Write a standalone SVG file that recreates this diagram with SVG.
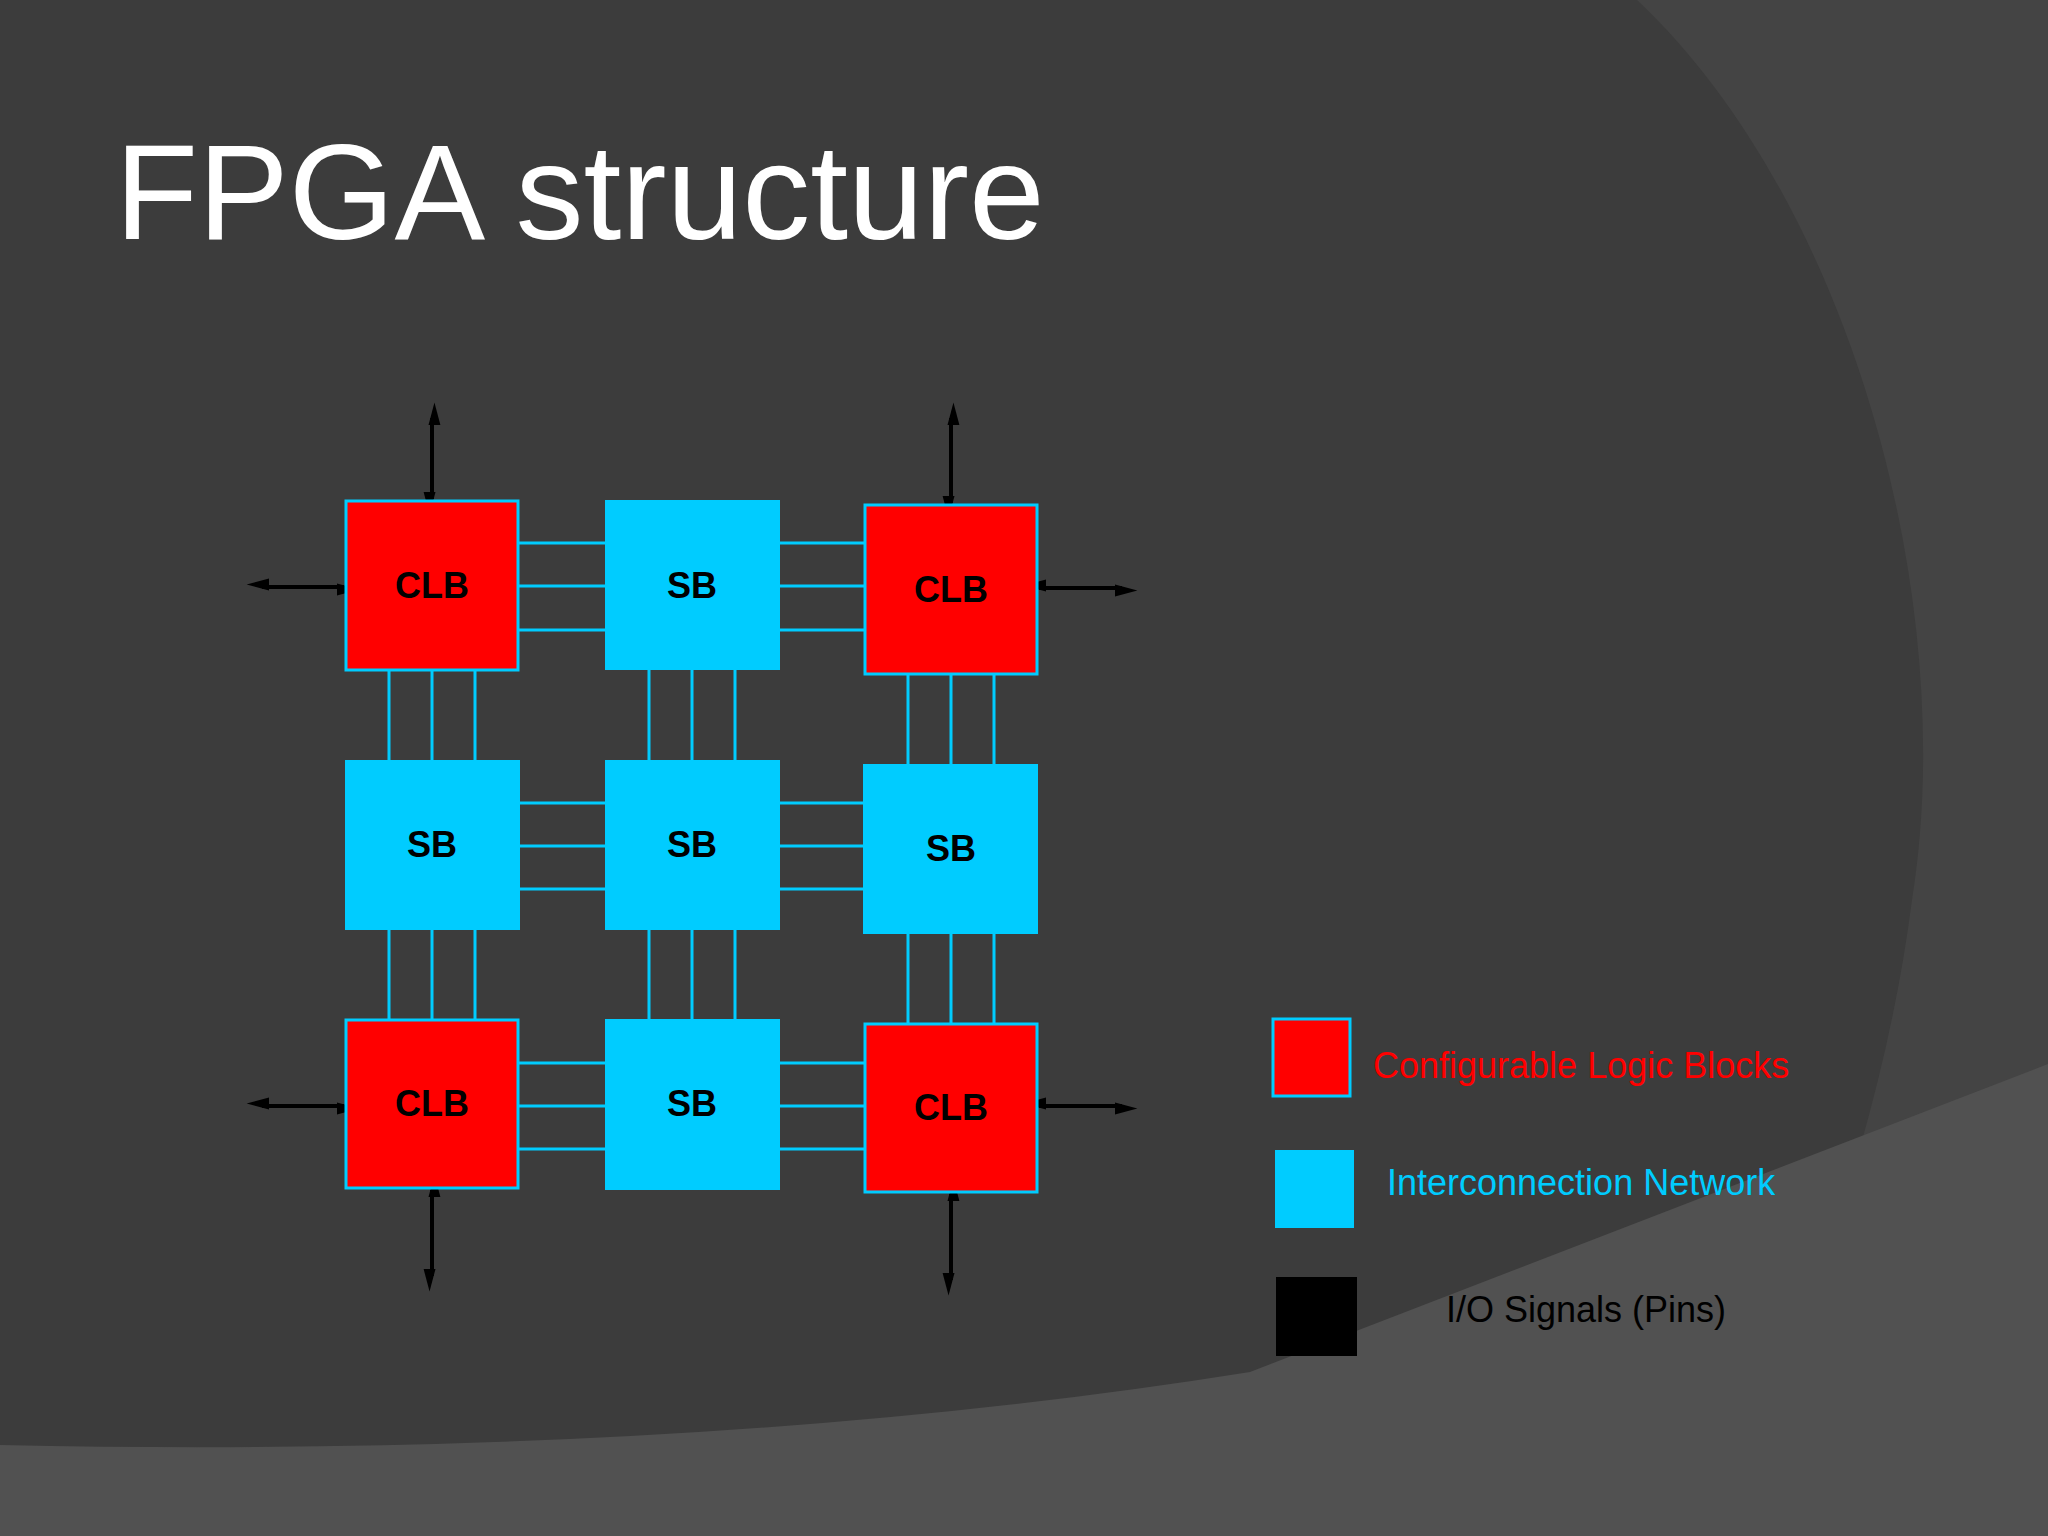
<svg xmlns="http://www.w3.org/2000/svg" width="2048" height="1536" viewBox="0 0 2048 1536">
<defs>
<style>
.clb{fill:#ff0000;stroke:#00ccff;stroke-width:3}
.sb{fill:#00ccff}
.lbl{font-family:"Liberation Sans",Arial,sans-serif;font-weight:bold;font-size:36px;fill:#000;text-anchor:middle}
.wire{stroke:#00ccff;stroke-width:3;fill:none}
.io{stroke:#000;stroke-width:4;fill:none;marker-start:url(#ah);marker-end:url(#ah)}
.leg{font-family:"Liberation Sans",Arial,sans-serif;font-size:36px}
</style>
<marker id="ah" viewBox="0 0 10 10" refX="10" refY="5" markerWidth="8" markerHeight="7" markerUnits="userSpaceOnUse" orient="auto-start-reverse" style="overflow:visible">
<path d="M0,0 L10,5 L0,10 Z" fill="#000" transform="scale(3.2,1.7) translate(-0,0)"/>
</marker>
</defs>
<rect width="2048" height="1536" fill="#3c3c3c"/>
<path d="M1637,0 C1850,200 1960,600 1912,900 C1880,1150 1780,1400 1700,1536 L2048,1536 L2048,0 Z" fill="#444444"/>
<path d="M0,1445 Q700,1460 1250,1372 L2048,1064 L2048,1536 L0,1536 Z" fill="#515151"/>
<text x="115" y="239" font-family="Liberation Sans,Arial,sans-serif" font-size="136" fill="#ffffff">FPGA structure</text>
<g id="connectors">
<path class="wire" d="M518,543H605M518,586H605M518,630H605M780,543H865M780,586H865M780,630H865"/>
<path class="wire" d="M520,803H605M520,846H605M520,889H605M780,803H863M780,846H863M780,889H863"/>
<path class="wire" d="M518,1063H605M518,1106H605M518,1149H605M780,1063H865M780,1106H865M780,1149H865"/>
<path class="wire" d="M389,670V760M432,670V760M475,670V760M649,670V760M692,670V760M735,670V760M908,674V764M951,674V764M994,674V764"/>
<path class="wire" d="M389,930V1020M432,930V1020M475,930V1020M649,930V1020M692,930V1020M735,930V1020M908,934V1024M951,934V1024M994,934V1024"/>
<g>
<line class="io" x1="432" y1="418" x2="432" y2="499"/>
<line class="io" x1="951" y1="418" x2="951" y2="503"/>
<line class="io" x1="432" y1="1190" x2="432" y2="1276"/>
<line class="io" x1="951" y1="1194" x2="951" y2="1280"/>
<line class="io" x1="262" y1="587" x2="344" y2="587"/>
<line class="io" x1="1039" y1="588" x2="1122" y2="588"/>
<line class="io" x1="262" y1="1106" x2="344" y2="1106"/>
<line class="io" x1="1039" y1="1106" x2="1122" y2="1106"/>
</g>
</g>
<g id="clb11"><rect class="clb" x="346" y="501" width="172" height="169"/><text class="lbl" x="432" y="598">CLB</text></g>
<g id="sb12"><rect class="sb" x="605" y="500" width="175" height="170"/><text class="lbl" x="692" y="598">SB</text></g>
<g id="clb13"><rect class="clb" x="865" y="505" width="172" height="169"/><text class="lbl" x="951" y="602">CLB</text></g>
<g id="sb21"><rect class="sb" x="345" y="760" width="175" height="170"/><text class="lbl" x="432" y="857">SB</text></g>
<g id="sb22"><rect class="sb" x="605" y="760" width="175" height="170"/><text class="lbl" x="692" y="857">SB</text></g>
<g id="sb23"><rect class="sb" x="863" y="764" width="175" height="170"/><text class="lbl" x="951" y="861">SB</text></g>
<g id="clb31"><rect class="clb" x="346" y="1020" width="172" height="168"/><text class="lbl" x="432" y="1116">CLB</text></g>
<g id="sb32"><rect class="sb" x="605" y="1019" width="175" height="171"/><text class="lbl" x="692" y="1116">SB</text></g>
<g id="clb33"><rect class="clb" x="865" y="1024" width="172" height="168"/><text class="lbl" x="951" y="1120">CLB</text></g>
<g id="legend">
<rect class="clb" x="1273" y="1019" width="77" height="77"/>
<text class="leg" x="1373" y="1078" fill="#ff0000">Configurable Logic Blocks</text>
<rect class="sb" x="1275" y="1150" width="79" height="78"/>
<text class="leg" x="1387" y="1195" fill="#00ccff">Interconnection Network</text>
<rect x="1276" y="1277" width="81" height="79" fill="#000"/>
<text class="leg" x="1446" y="1322" fill="#000">I/O Signals (Pins)</text>
</g>
</svg>
